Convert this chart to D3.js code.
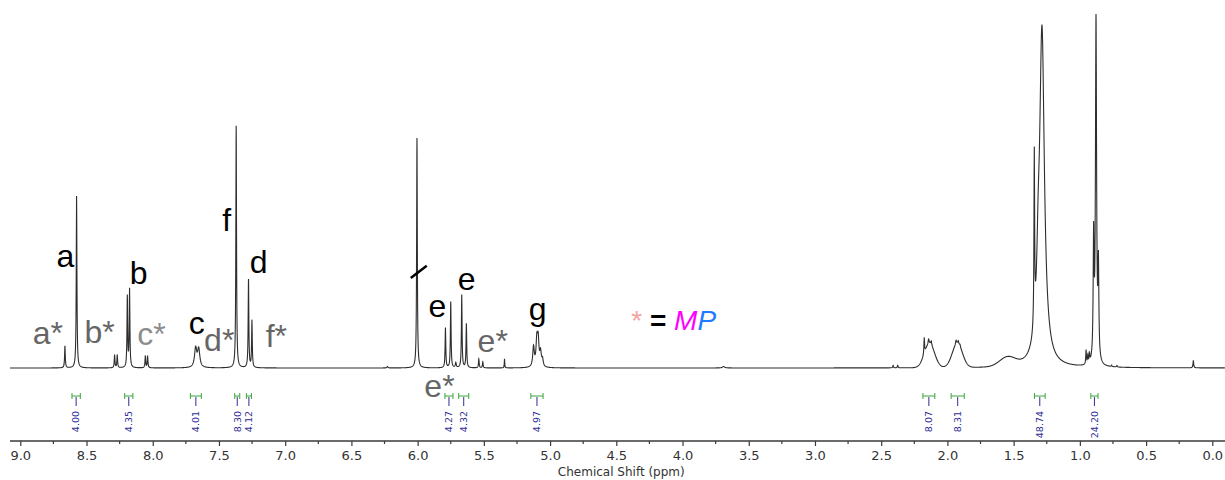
<!DOCTYPE html>
<html>
<head>
<meta charset="utf-8">
<script src="https://cdn.jsdelivr.net/npm/d3@7"></script>
<style>
  body { margin: 0; background: #fff; }
</style>
</head>
<body>
<div class="chart"></div>
<script>
//DATA
//axis ticks (ppm)
var majorTicks = [9.0, 8.5, 8.0, 7.5, 7.0, 6.5, 6.0, 5.5, 5.0, 4.5, 4.0, 3.5, 3.0, 2.5, 2.0, 1.5, 1.0, 0.5, 0.0];
var minorTicks = [8.75, 8.25, 7.75, 7.25, 6.75, 6.25, 5.75, 5.25, 4.75, 4.25, 3.75, 3.25, 2.75, 2.25, 1.75, 1.25, 0.75, 0.25];

//sharp peaks [ppm, height, half width (ppm)]
var aromaticPeaks = [
  [8.663, 22, 0.003],
  [8.575, 172, 0.003],
  [8.288, 13, 0.003],
  [8.268, 13, 0.003],
  [8.192, 71, 0.003],
  [8.175, 78, 0.003],
  [8.056, 12, 0.003],
  [8.039, 12, 0.003],
  [7.676, 19, 0.010],
  [7.653, 18, 0.010],
  [7.370, 242, 0.003],
  [7.277, 88, 0.003],
  [7.251, 47, 0.003]
];
var olefinPeaks = [
  [6.228, 1.5, 0.004],
  [6.005, 230, 0.003],
  [5.790, 40, 0.003],
  [5.750, 66, 0.003],
  [5.712, 5, 0.004],
  [5.667, 73, 0.003],
  [5.632, 44, 0.003],
  [5.538, 9, 0.003],
  [5.508, 6, 0.003],
  [5.344, 9, 0.002],
  [5.125, 20, 0.007],
  [5.100, 25, 0.007],
  [5.090, 25, 0.007],
  [5.072, 14, 0.007],
  [5.057, 7, 0.006],
  [3.690, 1.5, 0.010]
];
var aliphaticPeaks = [
  [2.410, 2.5, 0.003],
  [2.375, 2.5, 0.003],
  [2.175, 16, 0.003],
  [2.142, 5, 0.004],
  [2.122, 4, 0.004],
  [1.935, 4, 0.004],
  [1.918, 3, 0.004],
  [1.905, 2, 0.004],
  [1.344, 172, 0.003],
  [1.315, 50, 0.012],
  [1.286, 335, 0.022],
  [0.953, 14, 0.003],
  [0.940, 8, 0.003],
  [0.928, 9, 0.003],
  [0.896, 120, 0.004],
  [0.878, 343, 0.005],
  [0.860, 91, 0.004],
  [0.760, 1.5, 0.003],
  [0.720, 1.5, 0.003],
  [0.143, 7.5, 0.003]
];
//broad humps [ppm, height, half width (ppm)]
var broadHumps = [
  [2.135, 24, 0.045],
  [1.925, 24, 0.045],
  [1.546, 9, 0.070]
];

//integrals
var intValues = ['4.00', '4.35', '4.01', '8.30', '4.12', '4.27', '4.32', '4.97', '8.07', '8.31', '48.74', '24.20'];
var intFrom   = [8.610, 8.212, 7.716, 7.381, 7.293, 5.794, 5.690, 5.145, 2.185, 1.972, 1.343, 0.917];
var intTo     = [8.547, 8.150, 7.633, 7.343, 7.255, 5.733, 5.614, 5.053, 2.095, 1.873, 1.262, 0.863];

//peak letters [text, ppm, level]
var blackLabels = [['a', 8.660, 101], ['b', 8.106, 84], ['c', 7.668, 34], ['f', 7.441, 137], ['d', 7.200, 95],
                   ['e', 5.850, 51], ['e', 5.629, 78], ['g', 5.093, 48]];
var grayLabels  = [['a*', 8.792, 24], ['b*', 8.402, 25], ['d*', 7.498, 17], ['f*', 7.067, 21],
                   ['e*', 5.433, 16], ['e*', 5.835, -29]];
var lightLabels = [['c*', 8.009, 23]];

//SETUP
var width = 1225, height = 480;
var baseY = 368, axisY = 441;

var svg = d3.select('.chart')
  .append('svg')
    .attr('width', width)
    .attr('height', height);

var x = d3.scaleLinear().domain([9, 0]).range([20.3, 1212.3]);
var y = d3.scaleLinear().domain([0, 368]).range([baseY, 0]);

var lo = x.invert(width), hi = x.invert(10);

//build spectrum from the peak list
var sharp = aromaticPeaks.concat(olefinPeaks, aliphaticPeaks);
var grid = d3.range(hi, lo, -0.0015);
sharp.forEach(function(p){ grid.push(p[0]); });
grid.sort(function(a, b){ return b - a; });

var spectrum = grid.map(function(ppm){
  var v = 0;
  sharp.forEach(function(p){
    var d = (ppm - p[0]) / p[2];
    v += p[1] / (1 + d * d);
  });
  broadHumps.forEach(function(p){
    var d = (ppm - p[0]) / p[2];
    v += p[1] * Math.exp(-Math.LN2 * d * d);
  });
  return {ppm: ppm, v: v};
});

svg.append('path')
  .datum(spectrum)
  .attr('fill', 'none')
  .attr('stroke', '#2e2e2e')
  .attr('stroke-width', 1.1)
  .attr('d', d3.line()
    .x(function(d){ return x(d.ppm); })
    .y(function(d){ return y(d.v); }));

//break mark on the 6.0 peak
svg.append('line')
  .attr('x1', x(6.052)).attr('y1', y(90))
  .attr('x2', x(5.931)).attr('y2', y(102.3))
  .attr('stroke', '#000')
  .attr('stroke-width', 2.5);

//AXIS
var axis = svg.append('g').attr('transform', 'translate(0,' + axisY + ')');
axis.append('line')
  .attr('x1', x(hi)).attr('x2', x(lo))
  .attr('stroke', '#3a3a3a').attr('stroke-width', 1.6);

axis.call(d3.axisBottom(x)
    .tickValues(majorTicks)
    .tickSize(5)
    .tickPadding(5)
    .tickFormat(d3.format('.1f')));
axis.select('.domain').remove();
axis.selectAll('.tick line').attr('stroke', '#3a3a3a').attr('stroke-width', 1.2);
axis.selectAll('.tick text')
  .attr('fill', '#333')
  .style('font-family', 'DejaVu Sans, Verdana, sans-serif')
  .style('font-size', '13px');

axis.selectAll('.minor')
  .data(minorTicks)
  .enter()
  .append('line')
    .attr('class', 'minor')
    .attr('x1', function(d){ return x(d); })
    .attr('x2', function(d){ return x(d); })
    .attr('y1', 0).attr('y2', 3)
    .attr('stroke', '#3a3a3a').attr('stroke-width', 1.2);

svg.append('text')
  .attr('x', x(4.5) + 5)
  .attr('y', 476)
  .attr('text-anchor', 'middle')
  .attr('fill', '#333')
  .style('font-family', 'DejaVu Sans, Verdana, sans-serif')
  .style('font-size', '12px')
  .text('Chemical Shift (ppm)');

//INTEGRALS
var intY = 396;
var integrals = intValues.map(function(v, i){ return {v: v, a: intFrom[i], b: intTo[i]}; });
var ig = svg.selectAll('.integral')
  .data(integrals)
  .enter()
  .append('g')
    .attr('class', 'integral');

ig.append('line')
  .attr('x1', function(d){ return x(d.a); })
  .attr('x2', function(d){ return x(d.b); })
  .attr('y1', intY).attr('y2', intY)
  .attr('stroke', '#3aa63a').attr('stroke-width', 1);
ig.append('line')
  .attr('x1', function(d){ return x(d.a); })
  .attr('x2', function(d){ return x(d.a); })
  .attr('y1', intY - 3).attr('y2', intY + 3)
  .attr('stroke', '#3aa63a').attr('stroke-width', 1);
ig.append('line')
  .attr('x1', function(d){ return x(d.b); })
  .attr('x2', function(d){ return x(d.b); })
  .attr('y1', intY - 3).attr('y2', intY + 3)
  .attr('stroke', '#3aa63a').attr('stroke-width', 1);
ig.append('line')
  .attr('x1', function(d){ return x((d.a + d.b) / 2); })
  .attr('x2', function(d){ return x((d.a + d.b) / 2); })
  .attr('y1', intY + 1).attr('y2', intY + 10)
  .attr('stroke', '#2e2e96').attr('stroke-width', 1);
ig.append('text')
  .attr('transform', function(d){ return 'translate(' + x((d.a + d.b) / 2) + ',' + (intY + 15) + ') rotate(-90)'; })
  .attr('text-anchor', 'end')
  .attr('dy', '0.35em')
  .attr('fill', '#2e2e96')
  .style('font-family', 'DejaVu Sans, Verdana, sans-serif')
  .style('font-size', '9.5px')
  .text(function(d){ return d.v; });

//PEAK LABELS
var addLabels = function(data, colour){
  svg.selectAll(null)
    .data(data)
    .enter()
    .append('text')
      .attr('x', function(d){ return x(d[1]); })
      .attr('y', function(d){ return y(d[2]); })
      .attr('text-anchor', 'middle')
      .attr('fill', colour)
      .style('font-family', 'Liberation Sans, Arial, sans-serif')
      .style('font-size', '32px')
      .text(function(d){ return d[0]; });
};
addLabels(blackLabels, '#000');
addLabels(grayLabels, '#666');
addLabels(lightLabels, '#8c8c8c');

//legend  * = MP
var legend = svg.append('text')
  .attr('x', x(4.387))
  .attr('y', y(38))
  .style('font-family', 'Liberation Sans, Arial, sans-serif')
  .style('font-size', '28px');
legend.append('tspan').attr('fill', '#f4a3a3').text('*');
legend.append('tspan').attr('fill', '#000').style('font-weight', 'bold').text(' = ');
legend.append('tspan').attr('fill', '#ff00ff').style('font-style', 'italic').text('M');
legend.append('tspan').attr('fill', '#1e7bff').style('font-style', 'italic').text('P');
</script>
</body>
</html>
